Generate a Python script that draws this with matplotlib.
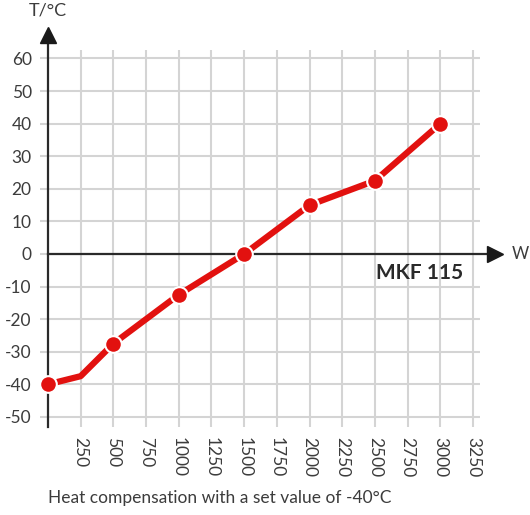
import matplotlib.pyplot as plt

# heat compensation curve
power_w = [0, 250, 500, 1000, 1500, 2000, 2500, 3000]
temp_c = [-40, -37.5, -27.5, -12.5, 0, 15, 22.5, 40]
marked = [0, 2, 3, 4, 5, 6, 7]  # point at 250 W has no dot

x_ticks = [250, 500, 750, 1000, 1250, 1500, 1750, 2000, 2250, 2500, 2750, 3000, 3250]
y_ticks = [-50, -40, -30, -20, -10, 0, 10, 20, 30, 40, 50, 60]

plt.rcParams['font.family'] = ['Lato', 'DejaVu Sans']
text_col = '#3c3c3c'
red = '#e2110f'

fig = plt.figure(figsize=(5.3, 5.15), dpi=100)
W, H = 530, 515
ax = fig.add_axes([40 / W, (H - 427) / H, 440 / W, 377 / H])
ax.set_xlim(-61, 3303)
ax.set_ylim(-53.1, 62.6)

# grid
for xv in x_ticks:
    ax.axvline(xv, color='#d4d4d4', lw=1.5, zorder=1)
for yv in y_ticks:
    ax.axhline(yv, color='#d4d4d4', lw=1.5, zorder=1)

for s in ax.spines.values():
    s.set_visible(False)

ax.set_xticks(x_ticks)
ax.set_xticklabels([str(v) for v in x_ticks], rotation=270, fontsize=12.5, color=text_col)
ax.set_yticks(y_ticks)
ax.set_yticklabels([str(v) for v in y_ticks], fontsize=12.5, color=text_col)
ax.tick_params(length=0)
ax.tick_params(axis='x', pad=7)
ax.tick_params(axis='y', pad=6)

# axes with arrows
ax.plot([0, 0], [-53.1, 66], color='#2a2a2a', lw=1.6, clip_on=False, zorder=3)
ax.plot([0], [67.2], marker='^', ms=12, color='#1a1a1a', clip_on=False, zorder=3)
ax.plot([0, 3400], [0, 0], color='#2a2a2a', lw=1.6, clip_on=False, zorder=3)
ax.plot([3417], [0], marker='>', ms=12, color='#1a1a1a', clip_on=False, zorder=3)

ax.plot(power_w, temp_c, color=red, lw=4.5, marker='o', markevery=marked,
        ms=12, mfc=red, mec='white', mew=1.5, clip_on=False, zorder=4,
        solid_capstyle='butt')

fig.text(48 / W, (H - 11) / H, 'T/°C', ha='center', va='center', fontsize=13, color=text_col)
fig.text(512 / W, (H - 254) / H, 'W', ha='left', va='center', fontsize=12, color=text_col)
ax.text(3173, -5.8, 'MKF 115', ha='right', va='center', fontsize=15,
        fontweight='bold', color='#2a2a2a')
fig.text(48 / W, (H - 498) / H, 'Heat compensation with a set value of -40°C',
         ha='left', va='center', fontsize=12.5, color=text_col)

fig.savefig('out.png', dpi=100)
